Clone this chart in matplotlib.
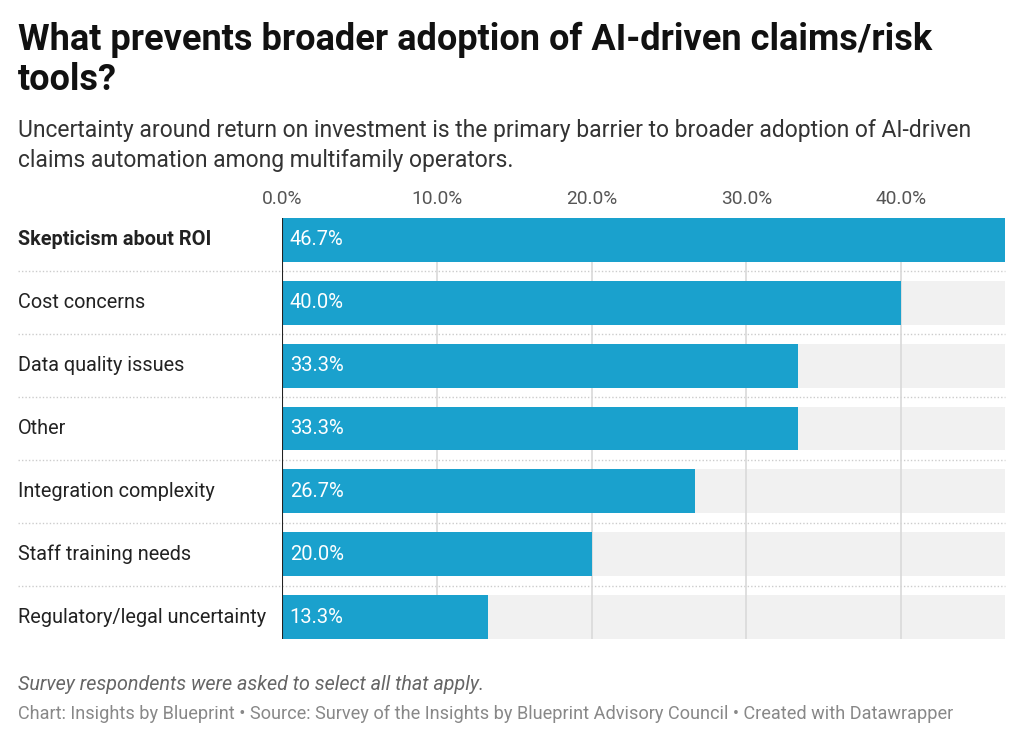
import matplotlib.pyplot as plt
from matplotlib import transforms

plt.rcParams['font.family'] = ['Roboto', 'DejaVu Sans']

categories = ["Skepticism about ROI", "Cost concerns", "Data quality issues", "Other",
              "Integration complexity", "Staff training needs", "Regulatory/legal uncertainty"]
values = [46.7, 40.0, 33.3, 33.3, 26.7, 20.0, 13.3]
ticks = [0, 10, 20, 30, 40]
tick_labels = ["0.0%", "10.0%", "20.0%", "30.0%", "40.0%"]

blue = "#1aa1cd"
W, H = 1024, 742
fig = plt.figure(figsize=(W / 100, H / 100), dpi=100)

# axes placed in pixel terms
left, right, top, bottom = 282, 1005, 218, 639
ax = fig.add_axes([left / W, 1 - bottom / H, (right - left) / W, (bottom - top) / H])

n = len(categories)
ys = list(range(n))
xmax = max(values)
bh = 0.70

ax.barh(ys, [xmax] * n, height=bh, color="#f1f1f1", zorder=1)
for t in ticks[1:]:
    ax.axvline(t, color="#d9d9d9", lw=1.2, zorder=2)
ax.barh(ys, values, height=bh, color=blue, zorder=3)

for y, v in zip(ys, values):
    ax.annotate(f"{v:.1f}%", (0, y), xytext=(5.5, 0), textcoords="offset points",
                ha="left", va="center", color="white", fontsize=14.5, zorder=4)

# row separators spanning label column
for i in range(n - 1):
    ax.axhline(i + 0.5, xmin=(18 - left) / (right - left), xmax=1, color="#cccccc",
               lw=1, ls=(0, (1, 1.5)), clip_on=False, zorder=0)

ax.axvline(0, color="#222222", lw=1.5, zorder=5)

ax.set_xlim(0, xmax)
ax.set_ylim(n - 1 + bh / 2, -bh / 2)
ax.set_xticks(ticks)
ax.set_xticklabels(tick_labels)
ax.xaxis.tick_top()
ax.tick_params(axis="x", length=0, pad=7, labelsize=13.8, labelcolor="#555555")
ax.set_yticks([])
for s in ax.spines.values():
    s.set_visible(False)

# category labels
trans = transforms.blended_transform_factory(fig.transFigure, ax.transData)
for y, c in zip(ys, categories):
    fig.text(18 / W, y, c, transform=trans, ha="left", va="center", fontsize=14.3,
             color="#222222", fontweight="bold" if y == 0 else "normal")

fig.text(18 / W, 1 - 40 / H, "What prevents broader adoption of AI-driven claims/risk",
         fontsize=26, fontweight="bold", color="#111111", va="center")
fig.text(18 / W, 1 - 80 / H, "tools?", fontsize=26, fontweight="bold", color="#111111", va="center")
fig.text(18 / W, 1 - 131 / H,
         "Uncertainty around return on investment is the primary barrier to broader adoption of AI-driven",
         fontsize=16.5, color="#333333", va="center")
fig.text(18 / W, 1 - 160 / H, "claims automation among multifamily operators.",
         fontsize=16.5, color="#333333", va="center")
fig.text(18 / W, 1 - 685 / H, "Survey respondents were asked to select all that apply.",
         fontsize=14.2, style="italic", color="#666666", va="center")
fig.text(18 / W, 1 - 714 / H,
         "Chart: Insights by Blueprint \u2022 Source: Survey of the Insights by Blueprint Advisory Council \u2022 Created with Datawrapper",
         fontsize=13.1, color="#888888", va="center")

fig.savefig("out.png", dpi=100)
